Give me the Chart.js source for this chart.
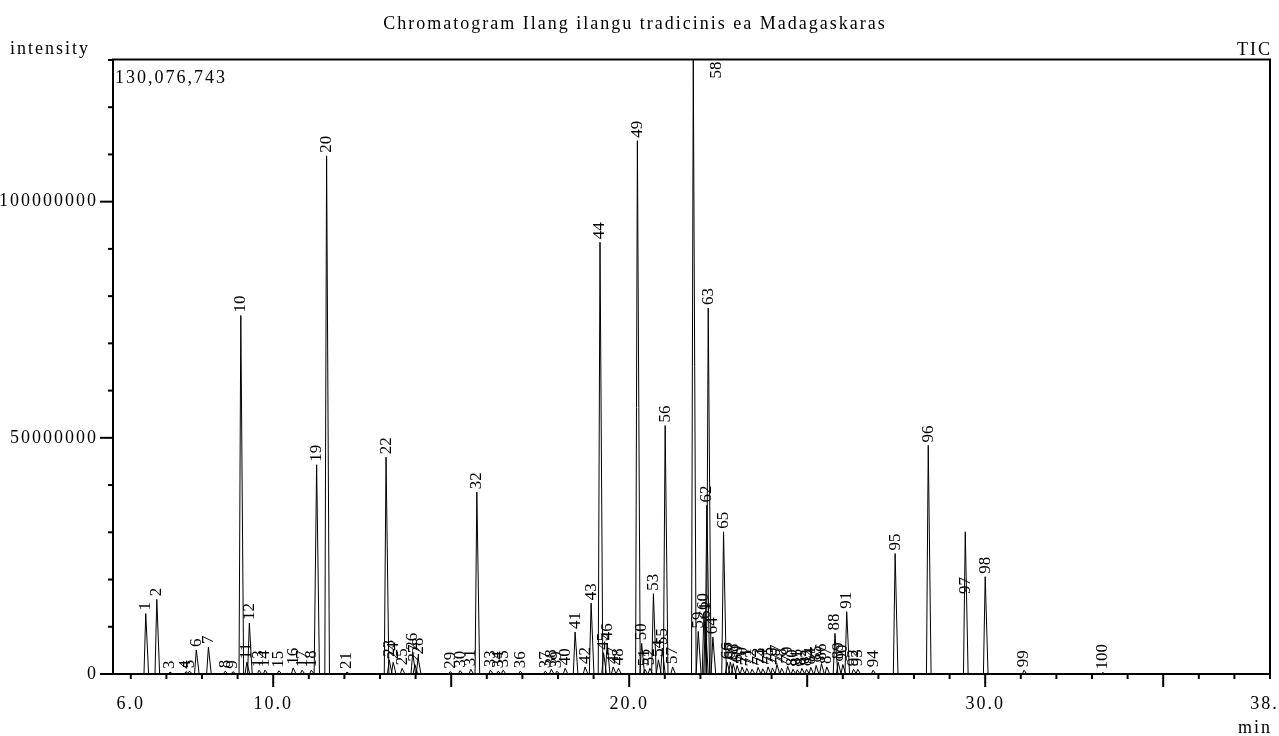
<!DOCTYPE html>
<html>
<head>
<meta charset="utf-8">
<script src="https://cdn.jsdelivr.net/npm/chart.js@4"></script>
<style>
  html, body { margin: 0; padding: 0; background: #fff; }
  #wrap { width: 1279px; height: 736px; position: relative; }
</style>
</head>
<body>
<div id="wrap"><canvas id="chrom"></canvas></div>
<script>
// retention time (min) of each numbered peak, 1..100
const peakTimes = [
  6.42, 6.73, 7.10, 7.55, 7.65, 7.84, 8.18, 8.65, 8.87, 9.09,
  9.26, 9.33, 9.60, 9.77, 10.16, 10.56, 10.81, 11.07, 11.22, 11.50,
  12.07, 13.17, 13.26, 13.37, 13.62, 13.92, 13.98, 14.07, 14.97, 15.25,
  15.55, 15.72, 16.10, 16.32, 16.46, 16.94, 17.64, 17.81, 17.97, 18.20,
  18.48, 18.76, 18.93, 19.18, 19.28, 19.38, 19.55, 19.70, 20.23, 20.35,
  20.44, 20.58, 20.68, 20.82, 20.93, 21.01, 21.22, 21.80, 21.94, 22.10,
  22.14, 22.18, 22.22, 22.35, 22.65, 22.75, 22.84, 22.92, 23.03, 23.17,
  23.30, 23.45, 23.62, 23.75, 23.90, 24.02, 24.15, 24.28, 24.45, 24.60,
  24.72, 24.85, 24.98, 25.10, 25.25, 25.40, 25.55, 25.78, 25.87, 26.00,
  26.11, 26.30, 26.42, 26.85, 27.47, 28.40, 29.44, 30.00, 31.09, 33.30
];

// apex intensity of each peak
const peakHeights = [
  12.8e6, 15.8e6, 0.4e6, 0.5e6, 0.6e6, 5.1e6, 5.7e6, 0.6e6, 0.5e6, 75.9e6,
  2.5e6, 10.8e6, 0.8e6, 0.8e6, 0.7e6, 1.3e6, 0.8e6, 0.8e6, 44.3e6, 109.7e6,
  0.4e6, 45.9e6, 3.0e6, 2.5e6, 1.2e6, 4.5e6, 2.0e6, 3.5e6, 0.5e6, 0.7e6,
  1.0e6, 38.5e6, 0.8e6, 0.6e6, 0.8e6, 0.6e6, 0.6e6, 1.0e6, 0.6e6, 1.2e6,
  8.9e6, 1.5e6, 15.0e6, 91.4e6, 4.5e6, 6.5e6, 1.5e6, 1.2e6, 112.9e6, 6.5e6,
  1.0e6, 1.2e6, 17.0e6, 3.0e6, 5.5e6, 52.6e6, 1.5e6, 130076743, 9.0e6, 12.9e6,
  11.0e6, 35.7e6, 77.5e6, 7.8e6, 30.1e6, 2.5e6, 2.5e6, 2.2e6, 1.8e6, 1.5e6,
  1.2e6, 1.0e6, 1.4e6, 1.1e6, 1.5e6, 1.3e6, 2.0e6, 1.2e6, 1.6e6, 1.0e6,
  0.9e6, 1.2e6, 1.0e6, 1.4e6, 1.8e6, 2.2e6, 1.5e6, 8.6e6, 2.5e6, 2.0e6,
  13.2e6, 1.0e6, 1.0e6, 0.8e6, 25.5e6, 48.4e6, 30.1e6, 20.6e6, 0.8e6, 0.3e6
];

// peaks whose number sits lower than their apex
const labelHeightOverride = { 97: 16.3e6 };

const xTickValues = [6, 10, 20, 30, 38];
const yTickValues = [0, 50000000, 100000000];
const xMin = 5.5, xMax = 38;
const yMax = 130076743;

const trace = [{ x: xMin, y: 0 }];
peakTimes.forEach((t, i) => {
  trace.push({ x: t - 0.05, y: 0 }, { x: t, y: peakHeights[i] }, { x: t + 0.08, y: 0 });
});
trace.push({ x: xMax, y: 0 });

const serif = "'Liberation Serif', 'Times New Roman', serif";
Chart.defaults.font.family = serif;
Chart.defaults.font.size = 18;
Chart.defaults.color = '#000';

const decorations = {
  id: 'decorations',
  beforeLayout(chart) { chart.ctx.letterSpacing = '2px'; },
  beforeDraw(chart) { chart.ctx.letterSpacing = '2px'; },
  afterDraw(chart) {
    const { ctx, chartArea: a, scales: { x, y } } = chart;
    ctx.save();
    ctx.strokeStyle = '#000';
    ctx.lineWidth = 2;

    // frame top + right
    ctx.beginPath();
    ctx.moveTo(a.left - 1, a.top);
    ctx.lineTo(a.right, a.top);
    ctx.lineTo(a.right, a.bottom);
    ctx.stroke();

    // x ticks every minute, longer every 5
    for (let t = 6; t <= 38; t++) {
      const px = x.getPixelForValue(t);
      const len = t % 5 === 0 ? 13 : 5;
      ctx.beginPath();
      ctx.moveTo(px, a.bottom);
      ctx.lineTo(px, a.bottom + len);
      ctx.stroke();
    }
    // y ticks every 10M, longer at labels
    for (let v = 0; v <= yMax; v += 10000000) {
      const py = y.getPixelForValue(v);
      const len = v % 50000000 === 0 ? 13 : 5;
      ctx.beginPath();
      ctx.moveTo(a.left, py);
      ctx.lineTo(a.left - len, py);
      ctx.stroke();
    }

    // texts around the plot
    ctx.fillStyle = '#000';
    ctx.font = '18px ' + serif;
    ctx.letterSpacing = '2px';
    ctx.textBaseline = 'alphabetic';
    ctx.textAlign = 'left';
    ctx.fillText('intensity', 10, 54);
    ctx.fillText('130,076,743', a.left + 2, 83);
    ctx.textAlign = 'right';
    ctx.fillText('TIC', a.right + 2, 55);
    ctx.fillText('min', a.right + 2, 733);

    // peak numbers
    ctx.font = '17px ' + serif;
    ctx.letterSpacing = '0px';
    ctx.textAlign = 'left';
    ctx.textBaseline = 'middle';
    peakTimes.forEach((t, i) => {
      const num = i + 1;
      const label = String(num);
      const h = labelHeightOverride[num] ?? peakHeights[i];
      const w = ctx.measureText(label).width;
      let lx = x.getPixelForValue(t);
      let ly = y.getPixelForValue(h) - 3;
      if (ly - w < a.top) {
        lx += 23;
        ly = a.top + 2 + w;
      }
      ctx.save();
      ctx.translate(lx, ly);
      ctx.rotate(-Math.PI / 2);
      ctx.fillText(label, 0, 0);
      ctx.restore();
    });
    ctx.restore();
  }
};

const ctx = document.getElementById('chrom').getContext('2d');
const chrom = new Chart(ctx, {
  type: 'line',
  data: {
    datasets: [{
      label: 'TIC',
      data: trace,
      borderColor: '#000',
      borderWidth: 1,
      pointRadius: 0,
      tension: 0,
      fill: false
    }]
  },
  options: {
    responsive: true,
    maintainAspectRatio: false,
    animation: false,
    layout: { padding: { left: 0, right: 9, top: 0, bottom: 0 } },
    plugins: {
      legend: { display: false },
      tooltip: { enabled: false },
      title: {
        display: true,
        text: 'Chromatogram Ilang ilangu tradicinis ea Madagaskaras',
        color: '#000',
        font: { size: 18, weight: 'normal' },
        padding: { top: 13, bottom: 25 }
      }
    },
    scales: {
      x: {
        type: 'linear',
        min: xMin,
        max: xMax,
        grid: { display: true, drawOnChartArea: false, color: 'rgba(0,0,0,0)', tickLength: 13 },
        border: { display: true, color: '#000', width: 2 },
        ticks: {
          color: '#000',
          padding: 6,
          autoSkip: false,
          maxRotation: 0,
          callback: v => Number(v).toFixed(1)
        },
        afterBuildTicks: s => { s.ticks = xTickValues.map(v => ({ value: v })); },
        afterFit: s => { s.height = 62; s.paddingLeft = 0; s.paddingRight = 0; }
      },
      y: {
        min: 0,
        max: yMax,
        grid: { display: true, drawOnChartArea: false, color: 'rgba(0,0,0,0)', tickLength: 13 },
        border: { display: true, color: '#000', width: 2 },
        ticks: {
          color: '#000',
          padding: 2,
          autoSkip: false,
          callback: v => String(v)
        },
        afterBuildTicks: s => { s.ticks = yTickValues.map(v => ({ value: v })); },
        afterFit: s => { s.width = 113; s.paddingTop = 0; s.paddingBottom = 0; }
      }
    }
  },
  plugins: [decorations]
});
</script>
</body>
</html>
